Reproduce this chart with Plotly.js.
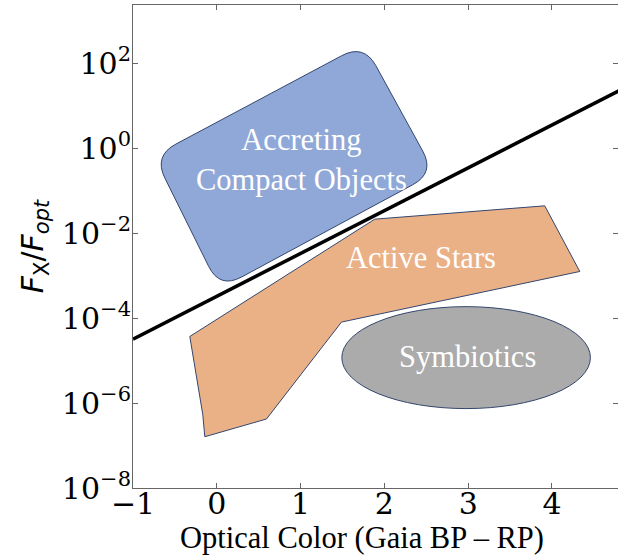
<!DOCTYPE html>
<html>
<head>
<meta charset="utf-8">
<script src="https://cdn.plot.ly/plotly-3.0.1.min.js"></script>
<style>html,body{margin:0;padding:0;background:#fff;}#chart{width:618px;height:556px;}</style>
</head>
<body>
<div id="chart"></div>
<script>
// Dividing line: log10(Fx/Fopt) vs optical colour
const lineX = [-1, 4.8];
const lineY = [3.2e-5, 22.5];

// Active Stars region (polygon vertices)
const activeX = [-0.322, -0.167, -0.143, 0.593, 1.488, 4.332, 3.914, 1.885];
const activeY = [3.69e-5, 5.31e-7, 1.61e-7, 4.21e-7, 8.05e-5, 1.25e-3, 4.39e-2, 2.13e-2];

// Accreting Compact Objects region: rounded rectangle (corner, and tangent points on each side of corner)
const accCornerX   = [1.754, 2.601, 0.036, -0.752];
const accCornerLog = [2.454, -0.581, -3.311, -0.181];
const accInX       = [1.490, 2.457, 0.298, -0.619];   // tangent point before corner
const accInLog     = [2.176, -0.066, -3.031, -0.708];
const accOutX      = [1.899, 2.339, -0.097, -0.488];  // tangent point after corner
const accOutLog    = [1.939, -0.861, -2.784, 0.096];

// Symbiotics region: ellipse bounds
const symX = [1.492, 4.459];
const symY = [7.4e-7, 1.86e-4];

// Region labels
const labelText = ['Accreting<br>Compact Objects', 'Active Stars', 'Symbiotics'];
const labelX = [1.01, 2.434, 2.995];
const labelLogY = [-0.275, -2.58, -4.91];

// Axis ticks
const xTickVals = [-1, 0, 1, 2, 3, 4];
const xTickText = ['\u22121', '0', '1', '2', '3', '4'];
const yTickVals = [1e-8, 1e-6, 1e-4, 1e-2, 1, 1e2];
const yTickText = ['10<sup>\u22128</sup>', '10<sup>\u22126</sup>', '10<sup>\u22124</sup>', '10<sup>\u22122</sup>', '10<sup>0</sup>', '10<sup>2</sup>'];
const xTitle = 'Optical Color (Gaia BP \u2013 RP)';

const p = (x, lg) => x + ',' + Math.pow(10, lg);
let path = 'M' + p(accOutX[0], accOutLog[0]);
for (let k = 1; k <= 4; k++) {
  const i = k % 4;
  path += ' L' + p(accInX[i], accInLog[i]);
  path += ' Q' + p(accCornerX[i], accCornerLog[i]) + ' ' + p(accOutX[i], accOutLog[i]);
}
path += ' Z';

const edge = '#34466e';

const traces = [
  {
    x: activeX.concat([activeX[0]]), y: activeY.concat([activeY[0]]),
    type: 'scatter', mode: 'lines', fill: 'toself', fillcolor: '#eab187',
    line: {color: edge, width: 1}, hoverinfo: 'skip', showlegend: false
  },
  {
    x: lineX, y: lineY, type: 'scatter', mode: 'lines',
    line: {color: '#000', width: 3.5}, hoverinfo: 'skip', showlegend: false
  }
];

const annotations = labelText.map((t, i) => ({
  text: t, x: labelX[i], y: labelLogY[i], xref: 'x', yref: 'y', showarrow: false,
  font: {family: 'Liberation Serif', size: 30.5, color: '#fff'}, align: 'center'
}));
annotations.push({
  text: xTitle, xref: 'paper', yref: 'paper', x: 0.472, y: -0.103,
  xanchor: 'center', yanchor: 'middle', showarrow: false, borderpad: 0,
  font: {family: 'Liberation Serif', size: 30.5, color: '#000'}
});

const layout = {
  width: 618, height: 556,
  margin: {l: 133, r: 0, t: 5, b: 68},
  paper_bgcolor: '#fff', plot_bgcolor: '#fff',
  showlegend: false,
  xaxis: {
    range: [-1, 4.788], tickmode: 'array', tickvals: xTickVals, ticktext: xTickText,
    showgrid: false, zeroline: false, showline: true, linecolor: '#666', linewidth: 1,
    mirror: 'ticks', ticks: 'inside', ticklen: 5, tickcolor: '#666',
    ticklabelstandoff: -11,
    tickfont: {family: 'DejaVu Serif', size: 30, color: '#000'}
  },
  yaxis: {
    type: 'log', range: [-8, 3.37], tickmode: 'array', tickvals: yTickVals, ticktext: yTickText,
    showgrid: false, zeroline: false, showline: true, linecolor: '#666', linewidth: 1,
    mirror: 'ticks', ticks: 'inside', ticklen: 5, tickcolor: '#666',
    ticklabelstandoff: -5,
    tickfont: {family: 'DejaVu Serif', size: 30, color: '#000'},
    title: {text: '<i>F</i><sub>X</sub>/<i>F</i><sub><i>opt</i></sub>', font: {family: 'DejaVu Sans', size: 30, color: '#000'}, standoff: 9}
  },
  shapes: [
    {type: 'path', xref: 'x', yref: 'y', path: path, fillcolor: '#8fa8d8', line: {color: edge, width: 1}, layer: 'below'},
    {type: 'circle', xref: 'x', yref: 'y', x0: symX[0], x1: symX[1], y0: symY[0], y1: symY[1], fillcolor: '#ababab', line: {color: edge, width: 1}, layer: 'below'}
  ],
  annotations: annotations
};

Plotly.newPlot('chart', traces, layout, {displayModeBar: false, staticPlot: true});
</script>
</body>
</html>
